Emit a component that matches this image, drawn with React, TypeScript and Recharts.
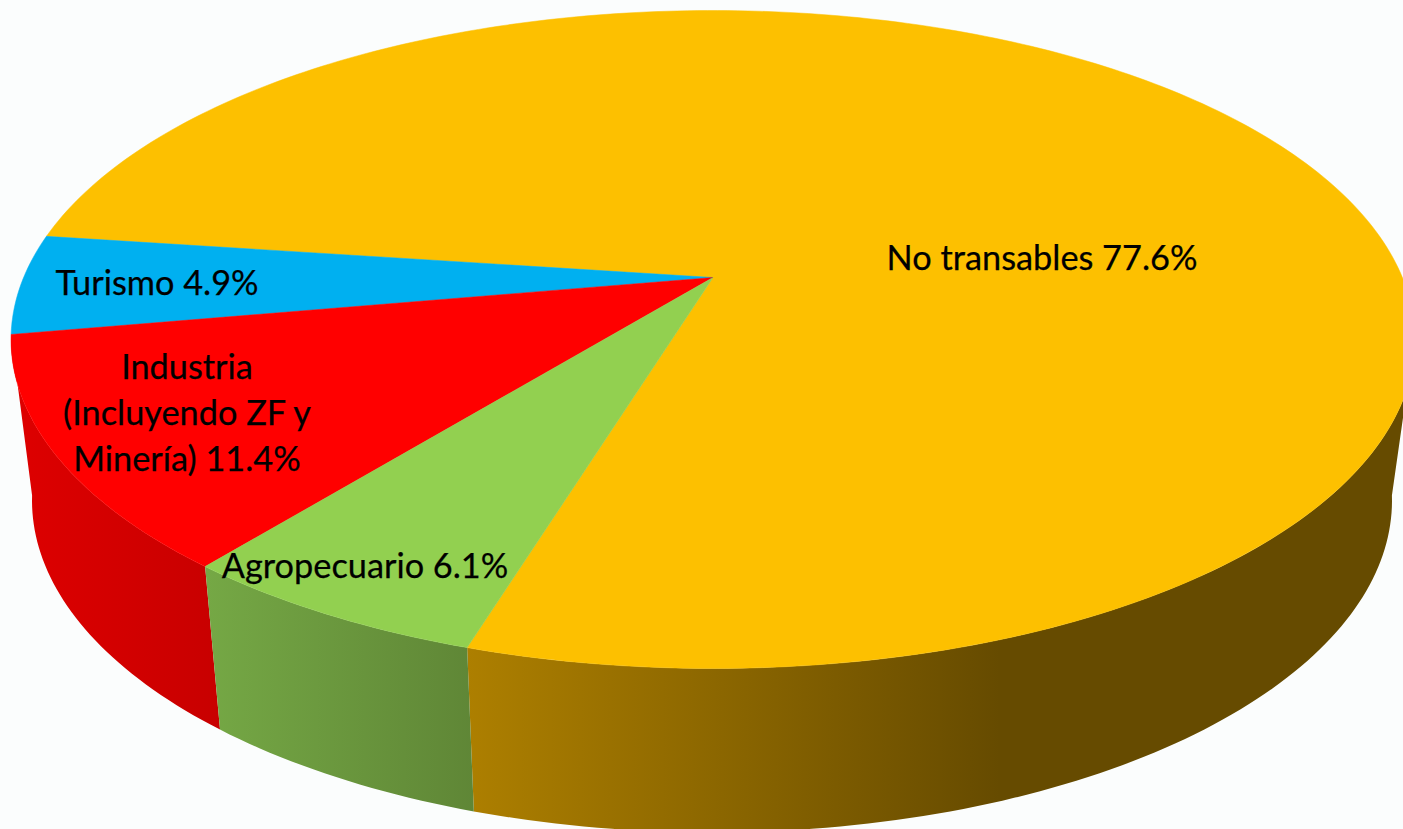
import { PieChart, Pie } from "recharts"

const categories = ["No transables", "Turismo", "Industria", "Agropecuario"]
const shares = [77.6, 4.9, 11.4, 6.1]
const topColors = ["#FDC000", "#00B0F0", "#FF0000", "#92D050"]
const wallFills = ["url(#wallOrange)", "#0090c4", "url(#wallRed)", "url(#wallGreen)"]

const labelLines = [
  ["No transables 77.6%"],
  ["Turismo 4.9%"],
  ["Industria", "(Incluyendo ZF y", "Minería) 11.4%"],
  ["Agropecuario 6.1%"],
]
const labelSpots = [
  { x: 1042, y: 259 },
  { x: 157, y: 284 },
  { x: 187, y: 368 },
  { x: 365, y: 567 },
]

const W = 1403
const H = 829
const APEX_X = 713
const APEX_Y = 277.5
const RADIUS = 702

// the flat pie is seen in perspective, so the apex is not the middle of the ellipse
const TILT = -0.1884
const SQUASH_X = 689.4 / RADIUS
const SQUASH_Y = 317.3 / RADIUS
const TOP_MID_Y = 339
const LOW_MID_X = 712
const LOW_MID_Y = 500
const LOW_SCALE_X = 0.9687
const LOW_SCALE_Y = 1.009

const tableData = categories.map((name, i) => ({ name, value: shares[i] }))

function project(deg: number, cx: number, cy: number, r: number) {
  const rad = (deg * Math.PI) / 180
  const u = Math.cos(rad)
  const v = -Math.sin(rad)
  const d = 1 + TILT * v
  return { x: cx + (r * SQUASH_X * u) / d, y: cy + (r * SQUASH_Y * v) / d }
}

function lower(p: { x: number; y: number }, cx: number) {
  return {
    x: LOW_MID_X + (p.x - cx) * LOW_SCALE_X,
    y: LOW_MID_Y + (p.y - TOP_MID_Y) * LOW_SCALE_Y,
  }
}

function arcPoints(from: number, to: number, cx: number, cy: number, r: number) {
  const n = Math.max(2, Math.ceil(Math.abs(to - from)))
  const pts = []
  for (let i = 0; i <= n; i++) pts.push(project(from + ((to - from) * i) / n, cx, cy, r))
  return pts
}

const toPath = (pts: { x: number; y: number }[]) =>
  pts.map((p, i) => `${i ? "L" : "M"}${p.x.toFixed(2)} ${p.y.toFixed(2)}`).join(" ") + " Z"

function TopSlice(props: any) {
  const { cx, cy, outerRadius, startAngle, endAngle, index } = props
  const pts = [{ x: cx, y: cy }, ...arcPoints(startAngle, endAngle, cx, cy, outerRadius)]
  const color = topColors[index]
  return <path d={toPath(pts)} fill={color} stroke={color} strokeWidth={0.5} />
}

function WallSlice(props: any) {
  const { cx, cy, outerRadius, startAngle, endAngle, index } = props
  // only the front of the rim shows
  const windows = [[-170, -10], [190, 350]]
  for (const [lo, hi] of windows) {
    const a = Math.max(lo, startAngle)
    const b = Math.min(hi, endAngle)
    if (b - a > 0.01) {
      const top = arcPoints(a, b, cx, cy, outerRadius)
      const low = top.map((p) => lower(p, cx)).reverse()
      const fill = wallFills[index]
      return <path d={toPath([...top, ...low])} fill={fill} />
    }
  }
  return <g />
}

function SliceLabel(props: any) {
  const spot = labelSpots[props.index]
  return (
    <text
      fontFamily="Lato, sans-serif"
      fontSize={34.3}
      fill="#000000"
      stroke="#000000"
      strokeWidth={0.25}
      textAnchor="middle"
    >
      {labelLines[props.index].map((line, i) => (
        <tspan key={line} x={spot.x} y={spot.y + 11 + i * 46}>
          {line}
        </tspan>
      ))}
    </text>
  )
}

export default function App() {
  return (
    <div
      style={{
        position: "absolute",
        left: 0,
        top: 0,
        width: W,
        height: H,
        overflow: "hidden",
        background: "#fbfdfd",
      }}
    >
      <PieChart width={W} height={H} margin={{ top: 0, right: 0, bottom: 0, left: 0 }}>
        <defs>
          <linearGradient id="wallOrange" gradientUnits="userSpaceOnUse" x1={468} y1={0} x2={1000} y2={0}>
            <stop offset="0%" stopColor="#ad7f00" />
            <stop offset="100%" stopColor="#664b00" />
          </linearGradient>
          <linearGradient id="wallGreen" gradientUnits="userSpaceOnUse" x1={205} y1={0} x2={476} y2={0}>
            <stop offset="0%" stopColor="#75a845" />
            <stop offset="100%" stopColor="#5f8636" />
          </linearGradient>
          <linearGradient id="wallRed" gradientUnits="userSpaceOnUse" x1={11} y1={0} x2={220} y2={0}>
            <stop offset="0%" stopColor="#de0000" />
            <stop offset="100%" stopColor="#c80000" />
          </linearGradient>
        </defs>
        <Pie
          data={tableData}
          dataKey="value"
          nameKey="name"
          cx={APEX_X}
          cy={APEX_Y}
          outerRadius={RADIUS}
          startAngle={-107}
          endAngle={253}
          stroke="none"
          label={false}
          labelLine={false}
          shape={WallSlice}
          isAnimationActive={false}
        />
        <Pie
          data={tableData}
          dataKey="value"
          nameKey="name"
          cx={APEX_X}
          cy={APEX_Y}
          outerRadius={RADIUS}
          startAngle={-107}
          endAngle={253}
          stroke="none"
          label={SliceLabel}
          labelLine={false}
          shape={TopSlice}
          isAnimationActive={false}
        />
      </PieChart>
    </div>
  )
}
